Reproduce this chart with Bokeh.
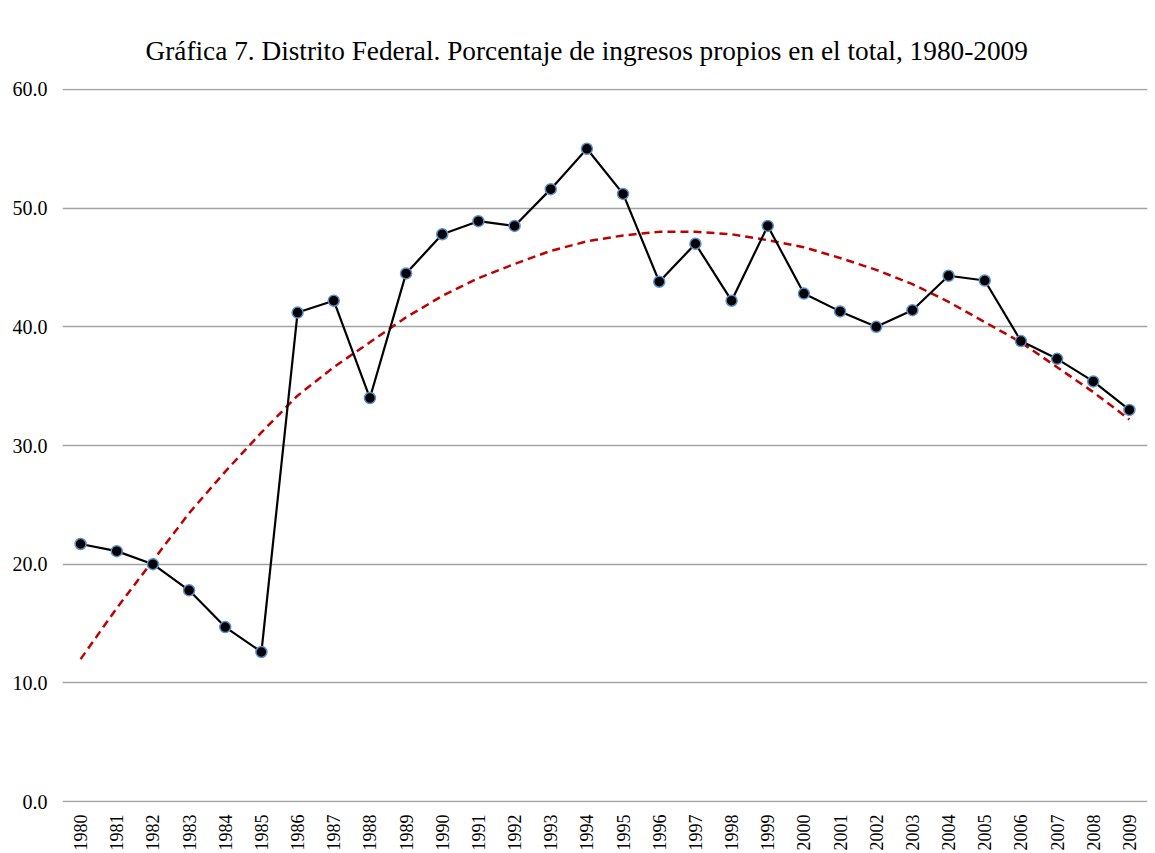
from bokeh.plotting import figure
from bokeh.models import FactorRange, Range1d, FixedTicker, PrintfTickFormatter, ColumnDataSource
from bokeh.embed import file_html
from bokeh.resources import INLINE
from math import pi

years = [str(y) for y in range(1980, 2010)]
valores = [21.7, 21.1, 20.0, 17.8, 14.7, 12.6, 41.2, 42.2, 34.0, 44.5,
           47.8, 48.9, 48.5, 51.6, 55.0, 51.2, 43.8, 47.0, 42.2, 48.5,
           42.8, 41.3, 40.0, 41.4, 44.3, 43.9, 38.8, 37.3, 35.4, 33.0]
tendencia = [12.0, 16.3, 20.3, 24.3, 27.8, 31.1, 34.2, 36.6, 38.7, 40.8,
             42.6, 44.1, 45.3, 46.4, 47.2, 47.7, 48.0, 48.0, 47.8, 47.3,
             46.7, 45.8, 44.8, 43.6, 42.1, 40.4, 38.7, 36.6, 34.5, 32.2]
y_ticks = [0, 10, 20, 30, 40, 50, 60]
titulo = "Gráfica 7. Distrito Federal. Porcentaje de ingresos propios en el total, 1980-2009"

SERIF = "Liberation Serif"

p = figure(x_range=FactorRange(factors=years, range_padding=0),
           y_range=Range1d(-0.08, 60.08),
           width=1152, height=853,
           output_backend="svg", toolbar_location=None,
           min_border_left=62, min_border_right=5, min_border_top=88, min_border_bottom=0,
           title=titulo)

p.title.text_font = SERIF
p.title.text_font_size = "27.3px"
p.title.text_font_style = "normal"
p.title.align = "left"
p.title.offset = 83
p.title.text_color = "black"
p.title.standoff = 45

p.outline_line_color = None
p.background_fill_color = "white"
p.border_fill_color = "white"

p.xgrid.grid_line_color = None
p.ygrid.grid_line_color = "#a3a3a3"
p.ygrid.grid_line_width = 1.3
p.ygrid.ticker = FixedTicker(ticks=y_ticks)

p.yaxis.ticker = FixedTicker(ticks=y_ticks)
p.yaxis.formatter = PrintfTickFormatter(format="%.1f")
p.yaxis.axis_line_color = None
p.yaxis.major_tick_line_color = None
p.yaxis.minor_tick_line_color = None
p.yaxis.major_label_text_font = SERIF
p.yaxis.major_label_text_font_size = "20px"
p.yaxis.major_label_text_color = "black"
p.yaxis.major_label_standoff = 9

p.xaxis.axis_line_color = None
p.xaxis.major_tick_line_color = None
p.xaxis.major_label_orientation = pi / 2
p.xaxis.major_label_text_font = SERIF
p.xaxis.major_label_text_font_size = "18px"
p.xaxis.major_label_text_color = "black"
p.xaxis.major_label_standoff = 6

src = ColumnDataSource(dict(x=years, y=valores, t=tendencia))

p.line("x", "t", source=src, line_color="#c00000", line_width=2.5, line_dash="8 5")
p.line("x", "y", source=src, line_color="black", line_width=2.2)
p.scatter("x", "y", source=src, size=11, fill_color="black",
          line_color="#5b8fd0", line_width=1.5)

open("out.html", "w").write(file_html(p, INLINE))
